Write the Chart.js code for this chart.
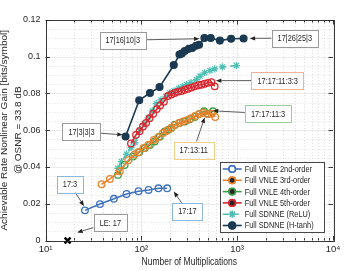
<!DOCTYPE html>
<html>
<head>
<meta charset="utf-8">
<script src="https://cdn.jsdelivr.net/npm/chart.js@4.4.0/dist/chart.umd.min.js"></script>
<style>
  html, body { margin: 0; padding: 0; background: #fff; }
</style>
</head>
<body>
<canvas id="myChart" width="364" height="271"></canvas>
<script>
// values (x = number of multiplications, y = gain in bits/symbol)
const vnle2Mults = [25.8, 37, 51.7, 70, 93.5, 119, 151, 186];
const vnle2Gain = [0.0164, 0.0198, 0.0227, 0.0253, 0.0268, 0.0275, 0.0284, 0.0284];

const vnle3Mults = [38.5, 47, 59.7, 73, 85, 93, 105, 118, 135, 150, 168, 185, 205, 225, 248, 272, 300, 330, 365, 400, 440, 490, 540, 590];
const vnle3Gain = [0.0306, 0.0335, 0.0377, 0.0437, 0.0468, 0.048, 0.0502, 0.052, 0.0547, 0.0562, 0.0585, 0.0597, 0.0612, 0.0628, 0.064, 0.0648, 0.0655, 0.0665, 0.0678, 0.0688, 0.0695, 0.0688, 0.069, 0.0672];

const vnle4Mults = [57, 67, 82, 95, 109, 123, 138, 156, 176, 192, 206, 223, 250, 284, 320, 361, 400, 451, 500, 560];
const vnle4Gain = [0.0357, 0.0411, 0.0457, 0.048, 0.0503, 0.052, 0.0539, 0.0565, 0.0593, 0.0603, 0.0612, 0.063, 0.064, 0.0648, 0.066, 0.0672, 0.0688, 0.0703, 0.069, 0.0703];

const vnle5Mults = [78, 88, 96, 104, 112, 122, 133, 145, 157, 172, 190, 206, 223, 242, 262, 284, 307, 333, 361, 392, 424, 460, 497, 540, 583];
const vnle5Gain = [0.0528, 0.0575, 0.0595, 0.062, 0.064, 0.0665, 0.069, 0.0715, 0.0735, 0.0755, 0.0786, 0.0795, 0.0803, 0.081, 0.0813, 0.082, 0.0826, 0.0832, 0.0839, 0.0845, 0.0848, 0.0853, 0.0858, 0.0862, 0.0839];

const reluMults = [57, 62, 70, 78, 86, 97, 107, 118, 130, 143, 160, 180, 198, 220, 245, 270, 295, 330, 376, 410, 458, 520, 583, 700, 981];
const reluGain = [0.0393, 0.043, 0.047, 0.0505, 0.0533, 0.0603, 0.0635, 0.0667, 0.0705, 0.0745, 0.0765, 0.0785, 0.0803, 0.0815, 0.0828, 0.0838, 0.0849, 0.086, 0.0876, 0.0895, 0.0913, 0.0925, 0.0934, 0.0945, 0.0952];

const tanhMults = [68.5, 95, 123, 155, 218, 250, 265, 284, 313, 340, 372, 400, 455, 530, 660, 864, 1167];
const tanhGain = [0.0566, 0.0763, 0.0803, 0.0835, 0.0955, 0.1012, 0.1018, 0.1031, 0.1043, 0.1048, 0.106, 0.1065, 0.1102, 0.1102, 0.1088, 0.1098, 0.1099];

const leMults = [17];
const leGain = [0];

const seriesNames = ['Full VNLE 2nd-order', 'Full VNLE 3rd-order', 'Full VNLE 4th-order', 'Full VNLE 5th-order', 'Full SDNNE (ReLU)', 'Full SDNNE (H-tanh)'];
const seriesColors = ['#3f72bd', '#e8832f', '#3d9e45', '#d9262f', '#4fbfb3', '#1b3a52'];

const xTickLabels = ['10\u00b9', '10\u00b2', '10\u00b3', '10\u2074'];
const yTickValues = [0, 0.02, 0.04, 0.06, 0.08, 0.1, 0.12];

// boxed labels: box centre and arrow tip in data units
const notes = [
  { text: '17|16|10|3', at: [64, 0.109], tip: [405, 0.1098], edge: '#9a9a9a' },
  { text: '17|26|25|3', at: [4000, 0.1102], tip: [1350, 0.11], edge: '#9a9a9a' },
  { text: '17:17:11:3:3', at: [2650, 0.087], tip: [600, 0.087], edge: '#f2b39a' },
  { text: '17:17:11:3', at: [2100, 0.069], tip: [556, 0.0706], edge: '#9ccf9c' },
  { text: '17:13:11', at: [352, 0.0493], tip: [458, 0.067], edge: '#f3cf86' },
  { text: '17|3|3|3', at: [23.8, 0.0592], tip: [64, 0.0575], edge: '#9a9a9a' },
  { text: '17:3', at: [18, 0.0307], tip: [25.2, 0.0187], edge: '#8ab6df' },
  { text: '17:17', at: [303, 0.016], tip: [218, 0.0266], edge: '#8ab6df' },
  { text: 'LE: 17', at: [47.5, 0.0097], tip: [21.4, 0.0044], edge: '#9a9a9a' }
];

const FONT = '"Liberation Sans", Arial, Helvetica, sans-serif';
const TEXT = '#262626';

function pts(xs, ys) {
  return xs.map(function (x, i) { return { x: x, y: ys[i] }; });
}

var xGridValues = [];
for (var d = 10; d < 10000; d *= 10) {
  for (var m = 1; m < 10; m++) xGridValues.push(d * m);
}
xGridValues.push(10000);

function isDecade(v) {
  var l = Math.log10(v);
  return Math.abs(l - Math.round(l)) < 1e-6;
}

function lineSet(i, xs, ys, extra) {
  var ds = {
    label: seriesNames[i],
    data: pts(xs, ys),
    borderColor: seriesColors[i],
    backgroundColor: 'rgba(255,255,255,0)',
    borderWidth: 1.6,
    pointStyle: 'circle',
    pointRadius: 3.3,
    pointBorderWidth: 1.3,
    pointBorderColor: seriesColors[i],
    pointBackgroundColor: 'rgba(255,255,255,0)',
    tension: 0
  };
  return Object.assign(ds, extra || {});
}

// squeezed text, the figure is a bit narrower than it was drawn
function squeezedText(ctx, txt, x, y, sx) {
  ctx.save();
  ctx.translate(x, y);
  ctx.scale(sx, 1);
  ctx.fillText(txt, 0, 0);
  ctx.restore();
}

function drawArrow(ctx, x1, y1, x2, y2) {
  var ang = Math.atan2(y2 - y1, x2 - x1);
  var len = 5.5, hw = 2.2;
  ctx.strokeStyle = '#333';
  ctx.fillStyle = '#222';
  ctx.lineWidth = 0.8;
  ctx.beginPath();
  ctx.moveTo(x1, y1);
  ctx.lineTo(x2 - Math.cos(ang) * len, y2 - Math.sin(ang) * len);
  ctx.stroke();
  ctx.beginPath();
  ctx.moveTo(x2, y2);
  ctx.lineTo(x2 - Math.cos(ang) * len - Math.sin(ang) * hw, y2 - Math.sin(ang) * len + Math.cos(ang) * hw);
  ctx.lineTo(x2 - Math.cos(ang) * len + Math.sin(ang) * hw, y2 - Math.sin(ang) * len - Math.cos(ang) * hw);
  ctx.closePath();
  ctx.fill();
}

const decor = {
  id: 'decor',
  beforeDatasetsDraw(chart) {
    const ctx = chart.ctx, a = chart.chartArea, x = chart.scales.x, y = chart.scales.y;
    ctx.save();
    ctx.lineWidth = 0.7;
    xGridValues.forEach(function (v) {
      var px = Math.round(x.getPixelForValue(v)) + 0.5;
      var major = isDecade(v);
      ctx.strokeStyle = major ? '#e4e4e4' : '#d2d2d2';
      ctx.setLineDash(major ? [] : [1, 2]);
      ctx.beginPath();
      ctx.moveTo(px, a.top);
      ctx.lineTo(px, a.bottom);
      ctx.stroke();
    });
    for (var k = 0; k <= 24; k++) {
      var v = k * 0.005;
      var py = Math.round(y.getPixelForValue(v)) + 0.5;
      var major = k % 4 === 0;
      ctx.strokeStyle = major ? '#e4e4e4' : '#d2d2d2';
      ctx.setLineDash(major ? [] : [1, 2]);
      ctx.beginPath();
      ctx.moveTo(a.left, py);
      ctx.lineTo(a.right, py);
      ctx.stroke();
    }
    ctx.restore();
  },
  afterDraw(chart) {
    const ctx = chart.ctx, a = chart.chartArea, x = chart.scales.x, y = chart.scales.y;
    ctx.save();
    // axes box and inward ticks
    ctx.strokeStyle = '#262626';
    ctx.lineWidth = 0.9;
    ctx.strokeRect(Math.round(a.left) + 0.5, Math.round(a.top) + 0.5, Math.round(a.right - a.left), Math.round(a.bottom - a.top));
    ctx.beginPath();
    xGridValues.forEach(function (v) {
      var px = Math.round(x.getPixelForValue(v)) + 0.5;
      var t = isDecade(v) ? 4.5 : 2.5;
      ctx.moveTo(px, a.bottom); ctx.lineTo(px, a.bottom - t);
      ctx.moveTo(px, a.top); ctx.lineTo(px, a.top + t);
    });
    yTickValues.forEach(function (v) {
      var py = Math.round(y.getPixelForValue(v)) + 0.5;
      ctx.moveTo(a.left, py); ctx.lineTo(a.left + 4.5, py);
      ctx.moveTo(a.right, py); ctx.lineTo(a.right - 4.5, py);
    });
    ctx.stroke();

    // boxed labels with arrows
    ctx.font = '9px ' + FONT;
    ctx.textAlign = 'center';
    ctx.textBaseline = 'middle';
    notes.forEach(function (n) {
      var cx = x.getPixelForValue(n.at[0]), cy = y.getPixelForValue(n.at[1]);
      var tx = x.getPixelForValue(n.tip[0]), ty = y.getPixelForValue(n.tip[1]);
      var w = ctx.measureText(n.text).width * 0.82 + 12, h = 16.5;
      var dx = tx - cx, dy = ty - cy;
      var s = Math.min((w / 2) / Math.max(Math.abs(dx), 1e-6), (h / 2) / Math.max(Math.abs(dy), 1e-6));
      drawArrow(ctx, cx + dx * s, cy + dy * s, tx, ty);
      ctx.fillStyle = '#fff';
      ctx.fillRect(cx - w / 2, cy - h / 2, w, h);
      ctx.strokeStyle = n.edge;
      ctx.lineWidth = 1;
      ctx.strokeRect(Math.round(cx - w / 2) + 0.5, Math.round(cy - h / 2) + 0.5, Math.round(w), Math.round(h));
      ctx.fillStyle = TEXT;
      squeezedText(ctx, n.text, cx, cy + 0.5, 0.82);
    });

    // legend in the lower right corner
    var lw = 103.5, lh = 69.5;
    var lx = a.right - 9.3 - lw, ly = a.bottom - 8.8 - lh;
    ctx.fillStyle = '#fff';
    ctx.fillRect(lx, ly, lw, lh);
    ctx.strokeStyle = '#333';
    ctx.lineWidth = 0.9;
    ctx.strokeRect(Math.round(lx) + 0.5, Math.round(ly) + 0.5, Math.round(lw), Math.round(lh));
    ctx.font = '9px ' + FONT;
    ctx.textAlign = 'left';
    chart.data.datasets.forEach(function (ds, i) {
      if (i >= seriesNames.length) return;
      var ry = ly + 6.8 + i * 11.3;
      ctx.strokeStyle = ds.borderColor;
      ctx.lineWidth = 1.6;
      ctx.setLineDash(ds.borderDash || []);
      ctx.beginPath();
      ctx.moveTo(lx + 2.5, ry);
      ctx.lineTo(lx + 21.5, ry);
      ctx.stroke();
      ctx.setLineDash([]);
      Chart.helpers.drawPoint(ctx, {
        pointStyle: ds.pointStyle, radius: ds.pointRadius, borderWidth: ds.pointBorderWidth, rotation: 0
      }, lx + 12, ry);
      ctx.fillStyle = ds.pointBackgroundColor;
      ctx.strokeStyle = ds.pointBorderColor;
      ctx.lineWidth = ds.pointBorderWidth;
      ctx.beginPath();
      if (ds.pointStyle === 'circle') {
        ctx.arc(lx + 12, ry, ds.pointRadius, 0, Math.PI * 2);
        ctx.fill();
      }
      ctx.stroke();
      ctx.fillStyle = TEXT;
      squeezedText(ctx, ds.label, lx + 24.5, ry + 0.5, 0.82);
    });

    // axis titles
    ctx.fillStyle = TEXT;
    ctx.font = '10px ' + FONT;
    ctx.textAlign = 'center';
    ctx.textBaseline = 'middle';
    squeezedText(ctx, 'Number of Multiplications', (a.left + a.right) / 2, 262.5, 0.85);
    ctx.save();
    ctx.translate(5, (a.top + a.bottom) / 2);
    ctx.rotate(-Math.PI / 2);
    ctx.scale(1, 0.85);
    ctx.fillText('Achievable Rate Nonlinear Gain [bits/symbol]', 0, 0);
    ctx.fillText('@ OSNR = 33.8 dB', 0, 15.5);
    ctx.restore();
    ctx.restore();
  }
};

Chart.defaults.font.family = FONT;
Chart.defaults.font.size = 10;
Chart.defaults.color = TEXT;

const ctx = document.getElementById('myChart');
new Chart(ctx, {
  type: 'line',
  data: {
    datasets: [
      lineSet(0, vnle2Mults, vnle2Gain),
      lineSet(1, vnle3Mults, vnle3Gain),
      lineSet(2, vnle4Mults, vnle4Gain),
      lineSet(3, vnle5Mults, vnle5Gain),
      lineSet(4, reluMults, reluGain, { pointStyle: 'star', pointRadius: 3.6, pointBorderWidth: 1.2, borderDash: [6, 4] }),
      lineSet(5, tanhMults, tanhGain, { pointBackgroundColor: seriesColors[5], pointRadius: 3.4 }),
      {
        label: 'LE',
        data: pts(leMults, leGain),
        showLine: false,
        borderColor: '#000',
        pointStyle: 'crossRot',
        pointRadius: 4.2,
        pointBorderWidth: 2.4,
        pointBorderColor: '#000',
        clip: false
      }
    ]
  },
  options: {
    responsive: false,
    animation: false,
    devicePixelRatio: 1,
    layout: { padding: { top: 20, right: 31, left: 0, bottom: 0 } },
    plugins: { legend: { display: false }, tooltip: { enabled: false } },
    scales: {
      x: {
        type: 'logarithmic',
        min: 10,
        max: 10000,
        grid: { display: false, drawTicks: false },
        border: { display: false },
        afterBuildTicks: function (s) {
          s.ticks = xGridValues.map(function (v) { return { value: v }; });
        },
        afterFit: function (s) { s.height = 30.5; },
        ticks: {
          autoSkip: false,
          maxRotation: 0,
          padding: 3,
          font: { size: 9.5 },
          callback: function (v) {
            if (!isDecade(v)) return '';
            return xTickLabels[Math.round(Math.log10(v)) - 1];
          }
        }
      },
      y: {
        min: 0,
        max: 0.12,
        grid: { display: false, drawTicks: false },
        border: { display: false },
        afterBuildTicks: function (s) {
          s.ticks = yTickValues.map(function (v) { return { value: v }; });
        },
        afterFit: function (s) { s.width = 45.5; },
        ticks: {
          padding: 5,
          font: { size: 9 },
          callback: function (v) { return String(Math.round(v * 100) / 100); }
        }
      }
    }
  },
  plugins: [decor]
});
</script>
</body>
</html>
